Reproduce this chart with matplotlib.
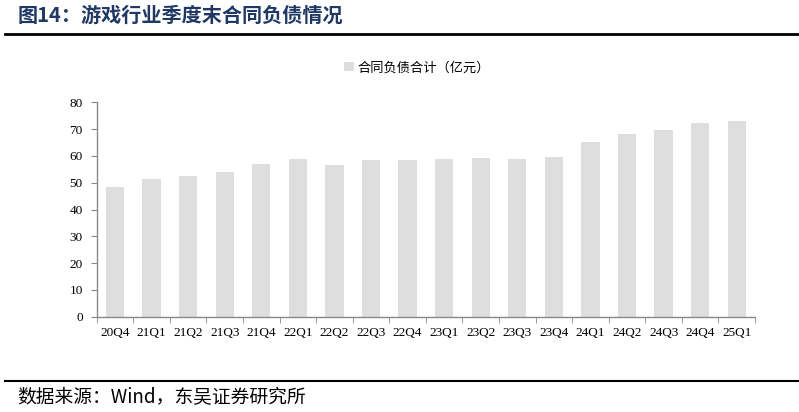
import matplotlib
matplotlib.use("Agg")
import matplotlib.pyplot as plt
from matplotlib.lines import Line2D
import numpy as np

plt.rcParams['font.family'] = ['Noto Sans CJK SC', 'DejaVu Sans']

# data
quarters = ['20Q4', '21Q1', '21Q2', '21Q3', '21Q4', '22Q1', '22Q2', '22Q3', '22Q4',
            '23Q1', '23Q2', '23Q3', '23Q4', '24Q1', '24Q2', '24Q3', '24Q4', '25Q1']
contract_liab = [48.5, 51.5, 52.4, 53.8, 57.1, 58.9, 56.6, 58.5, 58.6,
                 58.9, 59.1, 58.8, 59.7, 65.3, 68.0, 69.6, 72.1, 72.8]
y_ticks = [0, 10, 20, 30, 40, 50, 60, 70, 80]

title_text = '图14：游戏行业季度末合同负债情况'
legend_label = '合同负债合计（亿元）'
source_text = '数据来源：Wind，东吴证券研究所'

fig = plt.figure(figsize=(7.99, 4.12), dpi=100)
ax = fig.add_axes([0.121, 0.231, 0.824, 0.521])

x = np.arange(len(quarters))
bars = ax.bar(x, contract_liab, width=0.5, color='#DEDEDE', label=legend_label, zorder=2)

ax.set_xlim(-0.5, len(quarters) - 0.5)
ax.set_ylim(0, 80)
ax.set_yticks(y_ticks)
ax.set_yticklabels([str(v) for v in y_ticks], family='Liberation Serif', fontsize=9.5)

# category labels centered, ticks on the boundaries
ax.set_xticks(x)
ax.set_xticklabels(quarters, family='Liberation Serif', fontsize=9.5)
ax.tick_params(axis='x', which='major', length=0, pad=7)
ax.set_xticks(np.arange(-0.5, len(quarters), 1), minor=True)
ax.tick_params(axis='x', which='minor', length=4, color='#888888', direction='out')
ax.tick_params(axis='y', length=4, color='#888888', direction='out', pad=6)

for side in ['top', 'right']:
    ax.spines[side].set_visible(False)
for side in ['left', 'bottom']:
    ax.spines[side].set_color('#888888')
    ax.spines[side].set_linewidth(1)

ax.legend(loc='center', bbox_to_anchor=(0.487, 1.16), frameon=False,
          fontsize=9.5, handlelength=0.7, handleheight=0.7, handletextpad=0.3)

# title, rules and source
fig.text(0.022, 0.962, title_text, fontsize=14.5, fontweight='bold',
         color='#1F3864', va='center', ha='left')
fig.add_artist(Line2D([0.006, 1.0], [0.917, 0.917], color='black', lw=2,
                      transform=fig.transFigure))
fig.add_artist(Line2D([0.006, 1.0], [0.075, 0.075], color='black', lw=1.5,
                      transform=fig.transFigure))
fig.text(0.022, 0.036, source_text, fontsize=13.5, color='black', va='center', ha='left')

fig.savefig('out.png', dpi=100)
